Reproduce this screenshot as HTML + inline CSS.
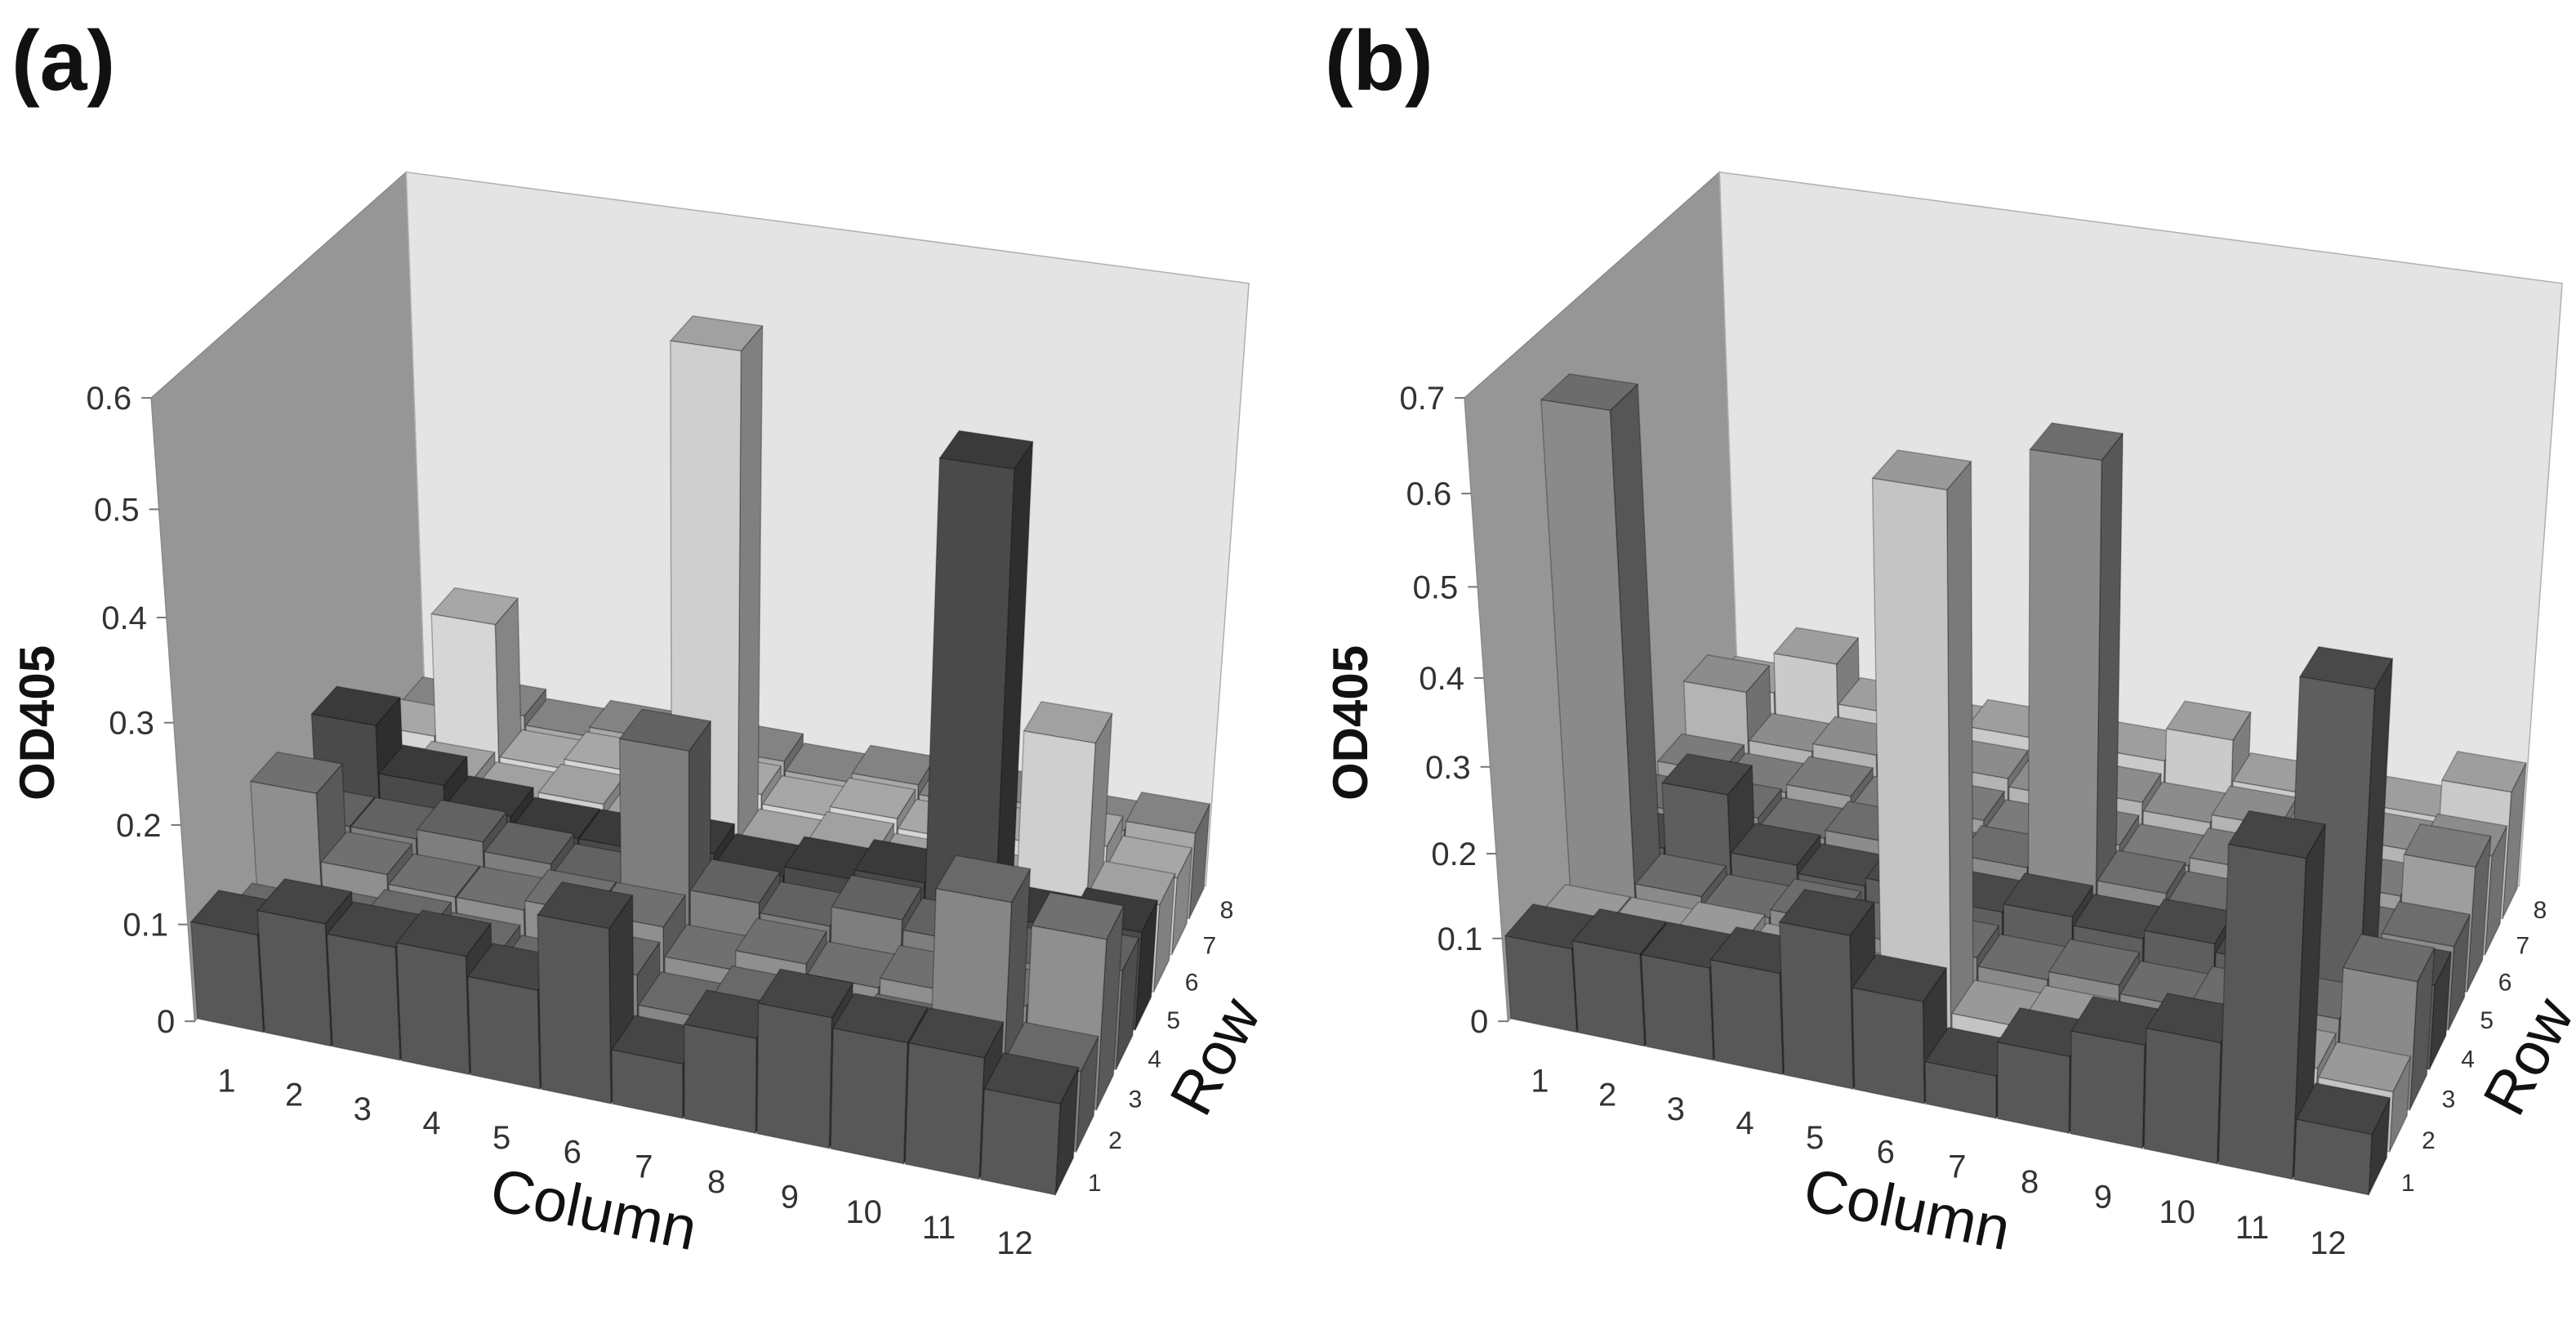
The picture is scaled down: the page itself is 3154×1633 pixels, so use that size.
<!DOCTYPE html>
<html><head><meta charset="utf-8">
<style>
html,body{margin:0;padding:0;background:#fff;}
svg{display:block;font-family:"Liberation Sans",Arial,sans-serif;}
</style></head>
<body>
<svg id="chart" width="3154" height="1633" viewBox="0 0 3154 1633" xmlns="http://www.w3.org/2000/svg">
<rect width="3154" height="1633" fill="#fff"/>
<g id="panelA"></g>
<g id="panelB" transform="translate(1608,0)"></g>
</svg>
<script>
// ---- data (rows 1..8 front to back, columns 1..12) ----
const columns = [1,2,3,4,5,6,7,8,9,10,11,12];
const rows = [1,2,3,4,5,6,7,8];
const ticksA = [0,0.1,0.2,0.3,0.4,0.5,0.6];
const ticksB = [0,0.1,0.2,0.3,0.4,0.5,0.6,0.7];
const aRow1 = [0.10,0.125,0.115,0.12,0.10,0.175,0.055,0.095,0.13,0.12,0.12,0.09];
const aRow2 = [0.07,0.08,0.09,0.08,0.07,0.09,0.06,0.08,0.07,0.08,0.23,0.08];
const aRow3 = [0.17,0.10,0.09,0.09,0.10,0.10,0.07,0.09,0.08,0.09,0.09,0.17];
const aRow4 = [0.10,0.10,0.11,0.10,0.09,0.24,0.10,0.09,0.11,0.10,0.09,0.10];
const aRow5 = [0.17,0.12,0.10,0.09,0.09,0.10,0.09,0.10,0.11,0.52,0.09,0.10];
const aRow6 = [0.08,0.09,0.08,0.09,0.08,0.56,0.08,0.09,0.08,0.08,0.24,0.09];
const aRow7 = [0.09,0.22,0.08,0.09,0.08,0.09,0.08,0.09,0.08,0.09,0.10,0.08];
const aRow8 = [0.08,0.09,0.08,0.09,0.08,0.09,0.08,0.09,0.08,0.09,0.08,0.09];
const bRow1 = [0.10,0.11,0.11,0.12,0.18,0.12,0.05,0.09,0.12,0.14,0.36,0.07];
const bRow2 = [0.08,0.08,0.09,0.08,0.07,0.64,0.06,0.07,0.06,0.07,0.08,0.07];
const bRow3 = [0.63,0.09,0.08,0.09,0.08,0.08,0.07,0.08,0.07,0.08,0.09,0.15];
const bRow4 = [0.09,0.17,0.10,0.09,0.10,0.09,0.10,0.09,0.10,0.09,0.42,0.10];
const bRow5 = [0.09,0.10,0.09,0.10,0.09,0.10,0.58,0.10,0.09,0.10,0.09,0.10];
const bRow6 = [0.10,0.09,0.10,0.09,0.10,0.09,0.10,0.09,0.10,0.09,0.10,0.15];
const bRow7 = [0.16,0.10,0.11,0.10,0.11,0.10,0.11,0.10,0.11,0.10,0.11,0.12];
const bRow8 = [0.12,0.17,0.12,0.11,0.12,0.11,0.12,0.16,0.11,0.12,0.11,0.155];

const colorsA = ['#585858','#868686','#8f8f8f','#7e7e7e','#4a4a4a','#cfcfcf','#d6d6d6','#a8a8a8'];
const colorsB = ['#585858','#c4c4c4','#8a8a8a','#5e5e5e','#8c8c8c','#9e9e9e','#b4b4b4','#cacaca'];

// ---- camera fit (DLT) ----
const S = 1.006;
const calib = [
 [0,0,0,237,1243],[0,0,1/6,229,1125],[0,0,2/6,222,1005],[0,0,3/6,211,880],
 [0,0,4/6,203,750],[0,0,5/6,193,618],[0,0,1,183,485],[12,0,0,1283,1458],
 [12,8,0,1468,1078],[0,8,1,495,210],[12,8,1,1520,345],[0,8,0,518,908]
];
function fitCamera(pts){
  const N=11, M=[], B=new Array(N).fill(0);
  for(let i=0;i<N;i++) M.push(new Array(N).fill(0));
  const add=(r,b)=>{for(let i=0;i<N;i++){B[i]+=r[i]*b;for(let j=0;j<N;j++)M[i][j]+=r[i]*r[j];}};
  pts.forEach(p=>{
    const [X,Y,Z]=p, x=p[3]*S/1000, y=p[4]*S/1000;
    add([X,Y,Z,1,0,0,0,0,-x*X,-x*Y,-x*Z],x);
    add([0,0,0,0,X,Y,Z,1,-y*X,-y*Y,-y*Z],y);
  });
  for(let c=0;c<N;c++){
    let piv=c;for(let r=c+1;r<N;r++)if(Math.abs(M[r][c])>Math.abs(M[piv][c]))piv=r;
    [M[c],M[piv]]=[M[piv],M[c]];[B[c],B[piv]]=[B[piv],B[c]];
    for(let r=0;r<N;r++){if(r===c)continue;const f=M[r][c]/M[c][c];
      for(let k=c;k<N;k++)M[r][k]-=f*M[c][k];B[r]-=f*B[c];}
  }
  return B.map((b,i)=>b/M[i][i]);
}
const P = fitCamera(calib);
function proj(X,Y,Z){
  const w=P[8]*X+P[9]*Y+P[10]*Z+1;
  return [1000*(P[0]*X+P[1]*Y+P[2]*Z+P[3])/w, 1000*(P[4]*X+P[5]*Y+P[6]*Z+P[7])/w];
}
const NS='http://www.w3.org/2000/svg';
function mk(tag,attrs,parent){const e=document.createElementNS(NS,tag);for(const k in attrs)e.setAttribute(k,attrs[k]);parent.appendChild(e);return e;}
function poly(pts3){return pts3.map(p=>proj(p[0],p[1],p[2]).map(v=>v.toFixed(1)).join(',')).join(' ');}
function shade(hex,f){const n=parseInt(hex.slice(1),16);const c=[n>>16,(n>>8)&255,n&255].map(v=>Math.max(0,Math.min(255,Math.round(v*f))));return 'rgb('+c.join(',')+')';}

function drawPanel(g, letter, zmax, ticks, data, colors){
  const lw = mk('polygon',{points:poly([[0,0,0],[0,0,1],[0,8,1],[0,8,0]]),fill:'#969696',stroke:'#8a8a8a','stroke-width':1.5},g);
  
  
  const bw = mk('polygon',{points:poly([[0,8,0],[0,8,1],[12,8,1],[12,8,0]]),fill:'#e4e4e4',stroke:'#b0b0b0','stroke-width':1.5},g);
  
  
  ticks.forEach(t=>{
    const p=proj(0,0,t/zmax);
    const tk=mk('line',{x1:p[0]-12,y1:p[1],x2:p[0],y2:p[1],stroke:'#777','stroke-width':2},g);
    
    
    const tl=mk('text',{x:p[0]-24,y:p[1]+14,'text-anchor':'end','font-size':40,fill:'#333'},g);
    tl.textContent=String(t);
    
    
  });
  const wf=0.98, df=0.86;
  for(let r=7;r>=0;r--){
    for(let c=0;c<12;c++){
      const h=data[r][c]/zmax;
      const u0=c+(1-wf)/2,u1=c+1-(1-wf)/2,v0=r+(1-df)/2,v1=r+1-(1-df)/2;
      const col=colors[r];
      const bar=mk('g',{},g);
      
      
      const st={stroke:'rgba(0,0,0,0.28)','stroke-width':1.5,'stroke-linejoin':'round'};
      mk('polygon',Object.assign({points:poly([[u1,v0,0],[u1,v1,0],[u1,v1,h],[u1,v0,h]]),fill:shade(col,0.62)},st),bar);
      mk('polygon',Object.assign({points:poly([[u0,v0,h],[u1,v0,h],[u1,v1,h],[u0,v1,h]]),fill:shade(col,0.78)},st),bar);
      mk('polygon',Object.assign({points:poly([[u0,v0,0],[u1,v0,0],[u1,v0,h],[u0,v0,h]]),fill:col},st),bar);
    }
  }
  columns.forEach((cl,i)=>{
    const p=proj(i+0.5,0,0);
    const t=mk('text',{x:p[0]-2,y:p[1]+78,'text-anchor':'middle','font-size':40,fill:'#333'},g);
    t.textContent=String(cl);
    
    
  });
  rows.forEach((rl,i)=>{
    const p=proj(12,i+0.5,0);
    const t=mk('text',{x:p[0]+36,y:p[1]+18,'text-anchor':'middle','font-size':30,fill:'#333'},g);
    t.textContent=String(rl);
    
    
  });
  const ct=mk('text',{x:0,y:0,'text-anchor':'middle','font-size':74,fill:'#111',transform:'translate(722,1505) rotate(11.5)'},g);
  ct.textContent='Column';
  
  
  const rt=mk('text',{x:0,y:0,'text-anchor':'middle','font-size':74,fill:'#111',transform:'translate(1510,1305) rotate(-62)'},g);
  rt.textContent='Row';
  
  
  const yt=mk('text',{x:0,y:0,'text-anchor':'middle','font-size':60,'font-weight':'bold',fill:'#111',transform:'translate(66,885) rotate(-90)'},g);
  yt.textContent='OD405';
  
  
  const pl=mk('text',{x:14,y:110,'font-size':104,'font-weight':'bold',fill:'#111'},g);
  pl.textContent='('+letter+')';
  
  
}
drawPanel(document.getElementById('panelA'),'a',0.6,ticksA,[aRow1,aRow2,aRow3,aRow4,aRow5,aRow6,aRow7,aRow8],colorsA);
drawPanel(document.getElementById('panelB'),'b',0.7,ticksB,[bRow1,bRow2,bRow3,bRow4,bRow5,bRow6,bRow7,bRow8],colorsB);
</script>
</body></html>
